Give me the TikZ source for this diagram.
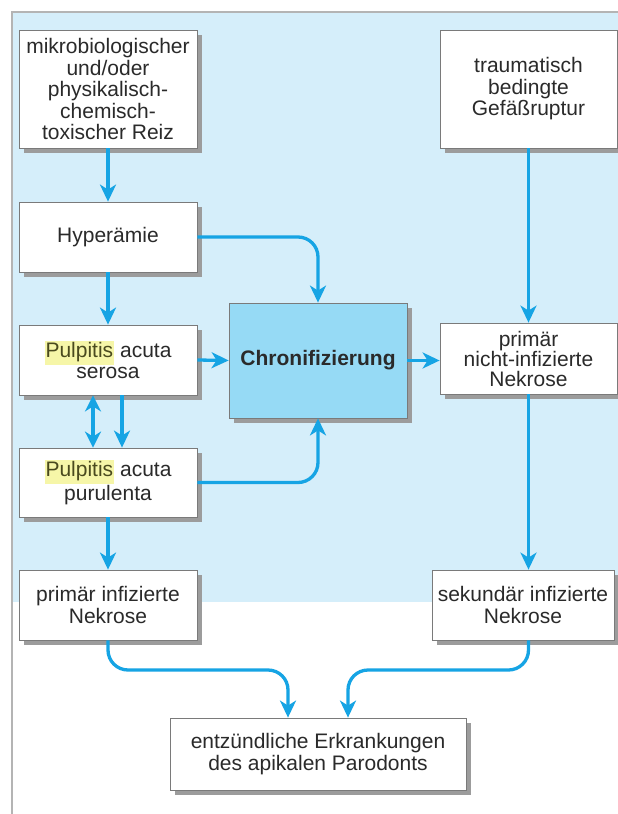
\documentclass[tikz,border=0pt]{standalone}
\usepackage{fontspec}
\setmainfont{Liberation Sans}
\usetikzlibrary{arrows.meta,shadows,calc}
\definecolor{bgblue}{HTML}{D5EEFA}
\definecolor{frameg}{HTML}{B4B4B4}
\definecolor{boxline}{HTML}{7A7A7A}
\definecolor{shadowg}{HTML}{9C9C9C}
\definecolor{chronfill}{HTML}{96DAF5}
\definecolor{arrowc}{HTML}{16A4E4}
\definecolor{txt}{HTML}{2A2A2A}
\definecolor{hly}{HTML}{F6F6A8}
\definecolor{hltxt}{HTML}{4A4A1E}
\newcommand\hlword[1]{{\setlength{\fboxsep}{1pt}\colorbox{hly}{\textcolor{hltxt}{\strut #1}}}}
\begin{document}
\begin{tikzpicture}[x=1pt,y=-1pt,
  box/.style={draw=boxline, line width=0.8pt, fill=white, align=center, inner sep=0pt, text=txt,
     font=\fontsize{21}{21.5}\selectfont,
     drop shadow={shadow xshift=5pt, shadow yshift=-5pt, fill=shadowg, opacity=1}},
  arr/.style={draw=arrowc, line width=3.3pt, -{Stealth[length=17pt,width=16pt,inset=5pt]}, rounded corners=20pt},
  darr/.style={draw=arrowc, line width=3.3pt, {Stealth[length=16pt,width=16pt,inset=5pt]}-{Stealth[length=16pt,width=16pt,inset=5pt]}},
]
\useasboundingbox (0,0) rectangle (618,814);
\fill[white] (0,0) rectangle (618,814);
\fill[bgblue] (12,12) rectangle (618,602);
\draw[frameg, line width=1.5pt] (12,814) -- (12,12) -- (618,12);

\node[box, minimum width=178pt, minimum height=118pt] (reiz) at (108,89)
  {mikrobiologischer\\und/oder\\physikalisch-\\chemisch-\\toxischer Reiz};
\node[box, minimum width=178pt, minimum height=70pt] (hyp) at (108,237) {Hyperämie};
\node[box, minimum width=178pt, minimum height=70pt] (ser) at (108,360) {\hlword{Pulpitis} acuta\\serosa};
\node[box, minimum width=178pt, minimum height=69pt] (pur) at (108,482.5) {\hlword{Pulpitis} acuta\\purulenta};
\node[box, minimum width=178pt, minimum height=70pt] (pinf) at (108,605) {primär infizierte\\Nekrose};
\node[box, fill=chronfill, minimum width=178pt, minimum height=115pt, font=\fontsize{21}{21.5}\selectfont\bfseries] (chron) at (318,360.5) {Chronifizierung};
\node[box, minimum width=177pt, minimum height=118pt] (trau) at (528.5,89) {traumatisch\\bedingte\\Gefäßruptur};
\node[box, minimum width=177pt, minimum height=71pt, font=\fontsize{21}{20}\selectfont] (nicht) at (528.5,358.5) {primär\\nicht-infizierte\\Nekrose};
\node[box, minimum width=182pt, minimum height=70pt] (sek) at (523,605) {sekundär infizierte\\Nekrose};
\node[box, minimum width=296pt, minimum height=72pt] (bot) at (318,754) {entzündliche Erkrankungen\\des apikalen Parodonts};

\coordinate (dl) at (93,0);
\coordinate (dr) at (122,0);
\coordinate (jy) at (0,670);
\coordinate (bl) at (288,0);
\coordinate (br) at (348,0);

\draw[arr] (reiz.south) -- (hyp.north);
\draw[arr] (hyp.south) -- (ser.north);
\draw[arr] (hyp.east) -| (chron.north);
\draw[arr] (ser.east) -- (chron.west);
\draw[arr] (chron.east) -- (nicht.west |- chron.east);
\draw[darr] (ser.south -| dl) -- (pur.north -| dl);
\draw[arr] (ser.south -| dr) -- (pur.north -| dr);
\draw[arr] (pur.east) -| (chron.south);
\draw[arr] (pur.south) -- (pinf.north);
\draw[arr] (trau.south) -- (nicht.north);
\draw[arr] (nicht.south) -- (nicht.south |- sek.north);
\draw[arr] (pinf.south) |- (bl |- jy) -- (bl |- bot.north);
\draw[arr] (nicht.south |- sek.south) |- (br |- jy) -- (br |- bot.north);
\end{tikzpicture}
\end{document}
